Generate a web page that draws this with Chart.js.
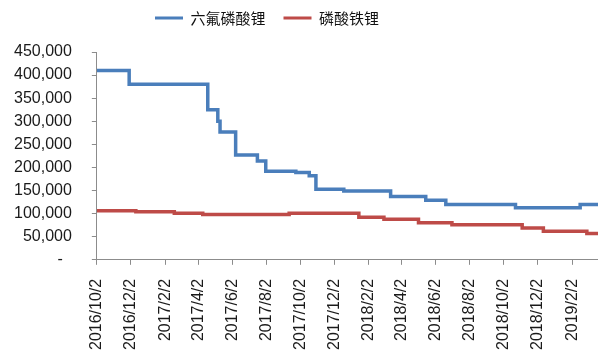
<!DOCTYPE html>
<html lang="zh-CN">
<head>
    <meta charset="UTF-8">
    <title>六氟磷酸锂与磷酸铁锂价格</title>
    <script src="https://cdn.jsdelivr.net/npm/chart.js"></script>
    <style>
        html, body { margin: 0; padding: 0; background: #fff; }
        #wrap { width: 598px; height: 356px; }
    </style>
</head>
<body>
    <div id="wrap">
        <canvas id="priceChart" width="598" height="356"></canvas>
    </div>

    <script>
        // x axis labels, every two months
        const tickLabels = ['2016/10/2', '2016/12/2', '2017/2/2', '2017/4/2', '2017/6/2', '2017/8/2',
            '2017/10/2', '2017/12/2', '2018/2/2', '2018/4/2', '2018/6/2', '2018/8/2',
            '2018/10/2', '2018/12/2', '2019/2/2'];

        // 六氟磷酸锂: dates where the price changes, and the new price (元/吨)
        const lipf6Dates = ['2016/10/2', '2016/11/29', '2017/4/19', '2017/5/7', '2017/5/11', '2017/6/8',
            '2017/7/17', '2017/8/1', '2017/9/24', '2017/10/18', '2017/10/30', '2017/12/19',
            '2018/3/13', '2018/5/15', '2018/6/20', '2018/10/23', '2019/2/16', '2019/3/20'];
        const lipf6Prices = [410000, 380000, 325000, 300000, 277000, 227000,
            214000, 192000, 189000, 182000, 153000, 149000,
            137000, 129000, 120000, 113000, 120000, 120000];

        // 磷酸铁锂
        const lfpDates = ['2016/10/2', '2016/12/11', '2017/2/18', '2017/4/10', '2017/9/12', '2018/1/15',
            '2018/3/1', '2018/5/2', '2018/7/1', '2018/11/4', '2018/12/12', '2019/2/28', '2019/3/20'];
        const lfpPrices = [106000, 104000, 101000, 98000, 101000, 92000,
            88000, 80000, 76000, 69000, 62000, 57000, 57000];

        // days since the first date, used as the x value
        const startDay = Date.UTC(2016, 9, 2);
        function dayIndex(s) {
            const p = s.split('/').map(Number);
            return (Date.UTC(p[0], p[1] - 1, p[2]) - startDay) / 86400000;
        }
        function toPoints(dates, values) {
            return dates.map((d, i) => ({ x: dayIndex(d), y: values[i] }));
        }

        const tickDays = tickLabels.map(dayIndex);
        const lastDay = dayIndex(lipf6Dates[lipf6Dates.length - 1]);

        const axisColor = '#8c8c8c';
        const labelFont = { family: '"Liberation Sans", Arial, sans-serif', size: 16 };

        // move the legend a bit left and up
        const legendShift = {
            id: 'legendShift',
            afterLayout(chart) {
                const lg = chart.legend;
                lg.left -= 29;
                lg.right -= 29;
                lg.top -= 16.5;
                lg.bottom -= 16.5;
            }
        };

        const ctx = document.getElementById('priceChart').getContext('2d');
        new Chart(ctx, {
            type: 'line',
            data: {
                datasets: [
                    {
                        label: '六氟磷酸锂',
                        data: toPoints(lipf6Dates, lipf6Prices),
                        borderColor: '#4a7ebb',
                        backgroundColor: '#4a7ebb',
                        borderWidth: 3.5,
                        stepped: true,
                        pointRadius: 0,
                        fill: false
                    },
                    {
                        label: '磷酸铁锂',
                        data: toPoints(lfpDates, lfpPrices),
                        borderColor: '#be4b48',
                        backgroundColor: '#be4b48',
                        borderWidth: 3.5,
                        stepped: true,
                        pointRadius: 0,
                        fill: false
                    }
                ]
            },
            options: {
                responsive: false,
                animation: false,
                devicePixelRatio: 1,
                layout: { padding: { top: 9, left: -6, right: 0, bottom: -8 } },
                plugins: {
                    tooltip: { enabled: false },
                    legend: {
                        position: 'top',
                        labels: {
                            boxWidth: 28,
                            boxHeight: 3,
                            padding: 18,
                            color: '#111',
                            font: { family: '"Noto Sans CJK SC", sans-serif', size: 15 },
                            generateLabels: chart => Chart.defaults.plugins.legend.labels.generateLabels(chart)
                                .map(item => ({ ...item, lineWidth: 0 }))
                        }
                    }
                },
                scales: {
                    x: {
                        type: 'linear',
                        min: 0,
                        max: lastDay,
                        afterBuildTicks: axis => { axis.ticks = tickDays.map(v => ({ value: v })); },
                        // let the lines run to the right edge
                        afterFit: axis => { axis.paddingRight = 0; },
                        grid: { display: true, drawOnChartArea: false, tickLength: 5, color: axisColor },
                        border: { color: axisColor },
                        ticks: {
                            autoSkip: false,
                            minRotation: 90,
                            maxRotation: 90,
                            padding: 14,
                            color: '#1a1a1a',
                            font: labelFont,
                            callback: (value, index) => tickLabels[index]
                        }
                    },
                    y: {
                        min: 0,
                        max: 450000,
                        grid: { display: true, drawOnChartArea: false, tickLength: 5, color: axisColor },
                        border: { color: axisColor },
                        ticks: {
                            stepSize: 50000,
                            autoSkip: false,
                            padding: 20,
                            color: '#1a1a1a',
                            font: labelFont,
                            callback: v => v === 0 ? '-  ' : v.toLocaleString('en-US')
                        }
                    }
                }
            },
            plugins: [legendShift]
        });
    </script>
</body>
</html>
